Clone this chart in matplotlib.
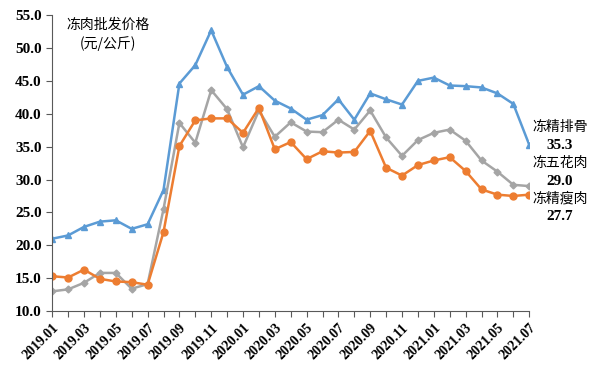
import matplotlib.pyplot as plt

plt.rcParams['font.family'] = ['Liberation Serif', 'Noto Sans CJK SC']

months = ['2019.01', '2019.02', '2019.03', '2019.04', '2019.05', '2019.06', '2019.07', '2019.08',
          '2019.09', '2019.10', '2019.11', '2019.12', '2020.01', '2020.02', '2020.03', '2020.04',
          '2020.05', '2020.06', '2020.07', '2020.08', '2020.09', '2020.10', '2020.11', '2020.12',
          '2021.01', '2021.02', '2021.03', '2021.04', '2021.05', '2021.06', '2021.07']

# 冻精排骨
paigu = [21.0, 21.5, 22.8, 23.6, 23.8, 22.5, 23.2, 28.4, 44.6, 47.4, 52.7, 47.1, 42.9, 44.2, 42.0, 40.8,
         39.1, 39.8, 42.2, 39.1, 43.1, 42.2, 41.4, 45.0, 45.5, 44.3, 44.2, 44.0, 43.1, 41.5, 35.3]
# 冻五花肉
wuhua = [13.0, 13.3, 14.3, 15.8, 15.8, 13.4, 14.1, 25.5, 38.6, 35.6, 43.6, 40.7, 34.9, 40.5, 36.5, 38.7,
         37.3, 37.2, 39.1, 37.6, 40.5, 36.4, 33.6, 36.0, 37.1, 37.6, 35.9, 32.9, 31.2, 29.2, 29.0]
# 冻精瘦肉
shourou = [15.3, 15.1, 16.3, 14.9, 14.5, 14.4, 14.0, 22.0, 35.1, 39.0, 39.3, 39.3, 37.1, 40.9, 34.6, 35.7,
           33.1, 34.3, 34.1, 34.2, 37.4, 31.8, 30.6, 32.2, 32.9, 33.4, 31.3, 28.5, 27.7, 27.5, 27.7]

x = list(range(len(months)))

fig = plt.figure(figsize=(6, 3.69), dpi=100)
ax = fig.add_axes([0.087, 0.157, 0.795, 0.802])

ax.plot(x, paigu, color='#5B9BD5', marker='^', markersize=5, linewidth=1.8)
ax.plot(x, wuhua, color='#A5A5A5', marker='D', markersize=3.5, linewidth=1.8)
ax.plot(x, shourou, color='#ED7D31', marker='o', markersize=5, linewidth=1.8)

ax.set_xlim(0, len(months) - 1)
ax.set_ylim(10, 55)
ax.set_yticks([10, 15, 20, 25, 30, 35, 40, 45, 50, 55])
ax.set_yticklabels(['%.1f' % v for v in ax.get_yticks()], fontsize=11, fontweight='bold')
ax.set_xticks(x)
ax.set_xticklabels([m if i % 2 == 0 else '' for i, m in enumerate(months)],
                   rotation=45, ha='right', rotation_mode='anchor', fontsize=10, fontweight='bold')
ax.tick_params(axis='both', colors='#595959', length=4, labelcolor='black')

for s in ['top', 'right']:
    ax.spines[s].set_visible(False)
for s in ['left', 'bottom']:
    ax.spines[s].set_color('#595959')

fig.text(0.18, 0.932, '冻肉批发价格', ha='center', va='center', fontsize=10, family=['Noto Sans CJK SC'])
fig.text(0.18, 0.883, '(元/公斤)', ha='center', va='center', fontsize=10, family=['Noto Sans CJK SC'])

names = ['冻精排骨', '冻五花肉', '冻精瘦肉']
last = [paigu[-1], wuhua[-1], shourou[-1]]
name_y = [0.656, 0.558, 0.463]
for name, val, yy in zip(names, last, name_y):
    fig.text(0.933, yy, name, ha='center', va='center', fontsize=10, family=['Noto Sans CJK SC'])
    fig.text(0.933, yy - 0.049, '%.1f' % val, ha='center', va='center', fontsize=11, fontweight='bold')

fig.savefig('out.png', dpi=100)
